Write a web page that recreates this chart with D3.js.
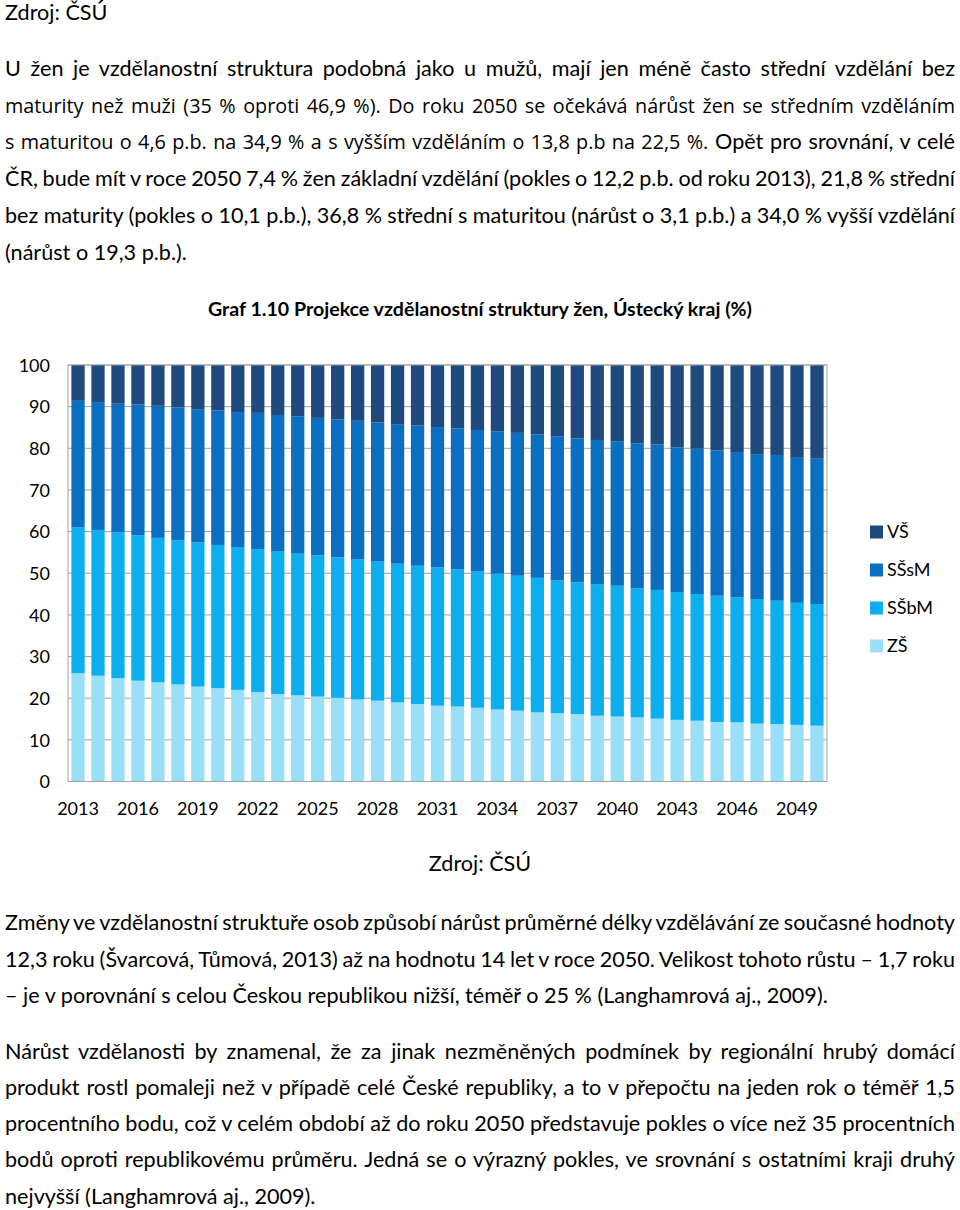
<!DOCTYPE html>
<html><head><meta charset="utf-8">
<script src="https://cdn.jsdelivr.net/npm/d3@7"></script>
<style>
html,body{margin:0;padding:0;background:#fff;}
svg{display:block;}
text{fill:#000;}
</style></head>
<body>
<svg id="page" width="960" height="1210"></svg>
<script>
// ---- data ----
const years = d3.range(2013, 2051);
const tickYears = [2013,2016,2019,2022,2025,2028,2031,2034,2037,2040,2043,2046,2049];
const seriesNames = ["ZŠ","SŠbM","SŠsM","VŠ"];
const ZS   = [26.0,25.4,24.8,24.2,23.8,23.3,22.8,22.4,22.0,21.5,21.0,20.7,20.4,20.1,19.7,19.4,19.0,18.6,18.2,18.0,17.7,17.3,17.0,16.6,16.4,16.2,15.8,15.6,15.4,15.1,14.8,14.6,14.3,14.2,13.9,13.8,13.6,13.4];
const SSbM = [35.0,35.0,35.0,34.9,34.7,34.6,34.6,34.4,34.3,34.3,34.2,34.0,33.9,33.7,33.7,33.4,33.3,33.2,33.2,32.9,32.7,32.6,32.4,32.3,31.9,31.6,31.6,31.4,31.0,30.9,30.7,30.4,30.3,30.0,29.9,29.6,29.3,29.2];
const SSsM = [30.4,30.7,30.9,31.4,31.7,31.9,32.0,32.3,32.4,32.7,32.8,33.0,33.0,33.1,33.2,33.4,33.5,33.7,33.7,33.9,34.0,34.2,34.3,34.4,34.6,34.6,34.6,34.7,34.8,34.9,34.7,34.9,34.9,34.9,34.8,35.0,35.0,34.9];
const VS   = [8.6,8.9,9.3,9.5,9.8,10.2,10.6,10.9,11.3,11.5,12.0,12.3,12.7,13.1,13.4,13.8,14.2,14.5,14.9,15.2,15.6,15.9,16.3,16.7,17.1,17.6,18.0,18.3,18.8,19.1,19.8,20.1,20.5,20.9,21.4,21.6,22.1,22.5];
const yTicks = [0,10,20,30,40,50,60,70,80,90,100];
const legendOrder = ["VŠ","SŠsM","SŠbM","ZŠ"];
const colors = {"ZŠ":"#9adff8","SŠbM":"#0caeee","SŠsM":"#0a6fc0","VŠ":"#1f4a7e"};

const title = "Graf 1.10 Projekce vzdělanostní struktury žen, Ústecký kraj (%)";
const source = "Zdroj: ČSÚ";
// each line: [segments], justified flag ; segment = [text, alt font?]
const para1 = [
  [[["U žen je vzdělanostní struktura podobná jako u mužů, mají jen méně často střední vzdělání bez",0]],1],
  [[["maturity než muži (35 % oproti 46,9 %). Do roku 2050 se očekává nárůst žen se středním vzděláním",1]],1],
  [[["s maturitou o 4,6 p.b. na 34,9 % a s vyšším vzděláním o 13,8 p.b na 22,5 %.",1],[" Opět pro srovnání, v celé",0]],1],
  [[["ČR, bude mít v roce 2050 7,4 % žen základní vzdělání (pokles o 12,2 p.b. od roku 2013), 21,8 % střední",0]],1],
  [[["bez maturity (pokles o 10,1 p.b.), 36,8 % střední s maturitou (nárůst o 3,1 p.b.) a 34,0 % vyšší vzdělání",0]],1],
  [[["(nárůst o 19,3 p.b.).",0]],0]
];
const para2 = [
  [[["Změny ve vzdělanostní struktuře osob způsobí nárůst průměrné délky vzdělávání ze současné hodnoty",0]],1],
  [[["12,3 roku (Švarcová, Tůmová, 2013) až na hodnotu 14 let v roce 2050. Velikost tohoto růstu – 1,7 roku",0]],1],
  [[["– je v porovnání s celou Českou republikou nižší, téměř o 25 % (Langhamrová aj., 2009).",0]],0]
];
const para3 = [
  [[["Nárůst vzdělanosti by znamenal, že za jinak nezměněných podmínek by regionální hrubý domácí",0]],1],
  [[["produkt rostl pomaleji než v případě celé České republiky, a to v přepočtu na jeden rok o téměř 1,5",0]],1],
  [[["procentního bodu, což v celém období až do roku 2050 představuje pokles o více než 35 procentních",0]],1],
  [[["bodů oproti republikovému průměru. Jedná se o výrazný pokles, ve srovnání s ostatními kraji druhý",0]],1],
  [[["nejvyšší (Langhamrová aj., 2009).",0]],0]
];

// ---- layout ----
const FONT = "Lato, 'Open Sans', sans-serif";
const ALT = "'Open Sans', 'Liberation Sans', sans-serif";
const svg = d3.select("#page");
const textLeft = 5, textRight = 955, bodySize = "21.6px";

function drawPara(lines, y0, lineH){
  lines.forEach((ln, i) => {
    const t = svg.append("text").attr("x", textLeft).attr("y", y0 + i*lineH)
      .style("font-family", FONT).style("font-size", bodySize);
    ln[0].forEach(seg => {
      const ts = t.append("tspan").text(seg[0]);
      if (seg[1]) ts.style("font-family", ALT).style("font-size", "19.8px");
    });
    if (ln[1]) {
      const w = t.node().getComputedTextLength();
      const full = ln[0].map(s => s[0]).join("");
      const spaces = (full.match(/ /g) || []).length;
      if (spaces > 0) t.style("word-spacing", ((textRight - textLeft - w) / spaces) + "px");
    }
  });
}

svg.append("text").attr("x", textLeft).attr("y", 20)
  .style("font-family", FONT).style("font-size", bodySize).text(source);
drawPara(para1, 76, 36.7);

svg.append("text").attr("x", 480).attr("y", 316).attr("text-anchor", "middle")
  .style("font-family", FONT).style("font-weight", "bold").style("font-size", "19.6px").text(title);

// chart
const plot = {left: 68, right: 827, top: 365, bottom: 781.5};
const x = d3.scaleBand().domain(years).range([plot.left, plot.right]).paddingInner(0.335).paddingOuter(0.17);
const y = d3.scaleLinear().domain([0, 100]).range([plot.bottom, plot.top]);

const g = svg.append("g");
// gridlines
g.append("g").selectAll("line").data(yTicks).join("line")
  .attr("x1", plot.left).attr("x2", plot.right)
  .attr("y1", d => y(d)).attr("y2", d => y(d))
  .attr("stroke", "#a3a3a3").attr("stroke-width", 1);

const table = years.map((yr, i) => ({year: yr, "ZŠ": ZS[i], "SŠbM": SSbM[i], "SŠsM": SSsM[i], "VŠ": VS[i]}));
const stacked = d3.stack().keys(seriesNames)(table);
g.append("g").selectAll("g").data(stacked).join("g")
  .attr("fill", d => colors[d.key])
  .selectAll("rect").data(d => d).join("rect")
  .attr("x", d => x(d.data.year))
  .attr("width", x.bandwidth())
  .attr("y", d => y(d[1]))
  .attr("height", d => y(d[0]) - y(d[1]));

// plot border
g.append("rect").attr("x", plot.left).attr("y", plot.top)
  .attr("width", plot.right - plot.left).attr("height", plot.bottom - plot.top)
  .attr("fill", "none").attr("stroke", "#a3a3a3").attr("stroke-width", 1);

// y axis labels
const yAxis = d3.axisLeft(y).tickValues(yTicks).tickSize(0).tickPadding(18);
const ya = svg.append("g").attr("transform", `translate(${plot.left},0)`).call(yAxis);
ya.select(".domain").remove();
ya.selectAll("text").style("font-family", FONT).style("font-size", "18px").attr("fill", "#000").attr("dy", "0.35em");

// x axis labels
const xAxis = d3.axisBottom(x).tickValues(tickYears).tickSize(0).tickPadding(21);
const xa = svg.append("g").attr("transform", `translate(0,${plot.bottom})`).call(xAxis);
xa.select(".domain").remove();
xa.selectAll("text").style("font-family", FONT).style("font-size", "18px").attr("fill", "#000");

// legend
const lg = svg.append("g").selectAll("g").data(legendOrder).join("g")
  .attr("transform", (d, i) => `translate(870,${532 + i*38})`);
lg.append("rect").attr("x", 0).attr("y", -6.5).attr("width", 13).attr("height", 13).attr("fill", d => colors[d]);
lg.append("text").attr("x", 17).attr("dy", "0.36em").style("font-family", FONT).style("font-size", "18px").text(d => d);

// source under chart
svg.append("text").attr("x", 480).attr("y", 871).attr("text-anchor", "middle")
  .style("font-family", FONT).style("font-size", bodySize).text(source);

drawPara(para2, 930, 36.7);
drawPara(para3, 1058.5, 36.3);
</script>
</body></html>
